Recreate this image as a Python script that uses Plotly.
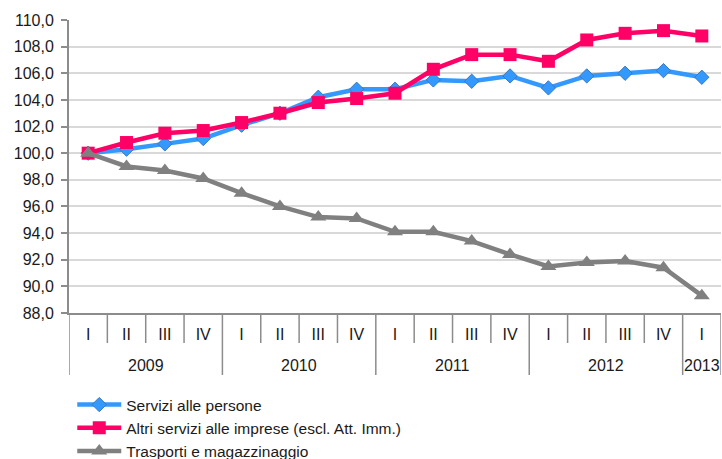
import plotly.graph_objects as go

quarters = ["I", "II", "III", "IV", "I", "II", "III", "IV", "I", "II", "III", "IV",
            "I", "II", "III", "IV", "I"]
years = ["2009"] * 4 + ["2010"] * 4 + ["2011"] * 4 + ["2012"] * 4 + ["2013"]

servizi_persone = [100.0, 100.3, 100.7, 101.1, 102.1, 103.0, 104.2, 104.8,
                   104.8, 105.5, 105.4, 105.8, 104.9, 105.8, 106.0, 106.2, 105.7]
altri_servizi = [100.0, 100.8, 101.5, 101.7, 102.3, 103.0, 103.8, 104.1,
                 104.5, 106.3, 107.4, 107.4, 106.9, 108.5, 109.0, 109.2, 108.8]
trasporti = [100.0, 99.0, 98.7, 98.1, 97.0, 96.0, 95.2, 95.1,
             94.1, 94.1, 93.4, 92.4, 91.5, 91.8, 91.9, 91.4, 89.3]

names = ["Servizi alle persone",
         "Altri servizi alle imprese (escl. Att. Imm.)",
         "Trasporti e magazzinaggio"]

FONT = "Liberation Sans, Arial, sans-serif"
AXIS_GREY = "#8c8c8c"

x = list(range(len(quarters)))

fig = go.Figure()
fig.add_trace(go.Scatter(
    x=x, y=servizi_persone, name=names[0], mode="lines+markers",
    line=dict(color="#3399FF", width=4.5),
    marker=dict(symbol="diamond", size=11, color="#3399FF",
                line=dict(color="#3A78C0", width=1))))
fig.add_trace(go.Scatter(
    x=x, y=altri_servizi, name=names[1], mode="lines+markers",
    line=dict(color="#FF0066", width=4.5),
    marker=dict(symbol="square", size=13, color="#FF0066")))
fig.add_trace(go.Scatter(
    x=x, y=trasporti, name=names[2], mode="lines+markers",
    line=dict(color="#808080", width=4.5),
    marker=dict(symbol="triangle-up", size=14, color="#808080")))

H_PLOT = 293.0
def py(px_below):
    return -px_below / H_PLOT

shapes = []
n = len(quarters)
for i in range(n + 1):
    bx = i - 0.5
    is_year = (i == 0 or i == n or years[i] != years[i - 1])
    shapes.append(dict(type="line", xref="x", yref="paper",
                       x0=bx, x1=bx, y0=0, y1=py(62 if is_year else 30),
                       line=dict(color=AXIS_GREY, width=1.5)))

annotations = []
groups = {}
for i, yv in enumerate(years):
    groups.setdefault(yv, []).append(i)
for yv, idx in groups.items():
    annotations.append(dict(text=yv, xref="x", yref="paper",
                            x=sum(idx) / len(idx), y=py(52),
                            showarrow=False, yanchor="middle",
                            font=dict(family=FONT, size=16, color="#1a1a1a")))

fig.update_layout(
    width=722, height=459,
    margin=dict(l=69, r=1, t=20, b=146, autoexpand=False),
    paper_bgcolor="white", plot_bgcolor="white",
    separators=",.",
    font=dict(family=FONT, size=16, color="#1a1a1a"),
    showlegend=True,
    legend=dict(x=0.005, y=py(75), xanchor="left", yanchor="top",
                itemwidth=44,
                font=dict(family=FONT, size=15.5, color="#1a1a1a"),
                bgcolor="rgba(0,0,0,0)", itemclick=False),
    shapes=shapes,
    annotations=annotations,
)
fig.update_xaxes(range=[-0.5, n - 0.5], tickmode="array", tickvals=x,
                 ticktext=quarters, showgrid=False, zeroline=False,
                 showline=True, linecolor=AXIS_GREY, linewidth=2,
                 ticks="", ticklabelstandoff=6, automargin=False,
                 tickfont=dict(family=FONT, size=16, color="#1a1a1a"))
fig.update_yaxes(range=[88, 110], dtick=2, tick0=88, tickformat=".1f",
                 showgrid=True, gridcolor="#d9d9d9", gridwidth=1.5,
                 zeroline=False, showline=True, linecolor=AXIS_GREY,
                 linewidth=2, ticks="outside", ticklen=6, tickcolor=AXIS_GREY,
                 tickwidth=1.5, ticklabelstandoff=4, automargin=False,
                 tickfont=dict(family=FONT, size=16, color="#1a1a1a"))

fig.write_html("out.html",
               config={"displayModeBar": False},
               post_script="document.body.style.margin='0';document.body.style.padding='0';")
